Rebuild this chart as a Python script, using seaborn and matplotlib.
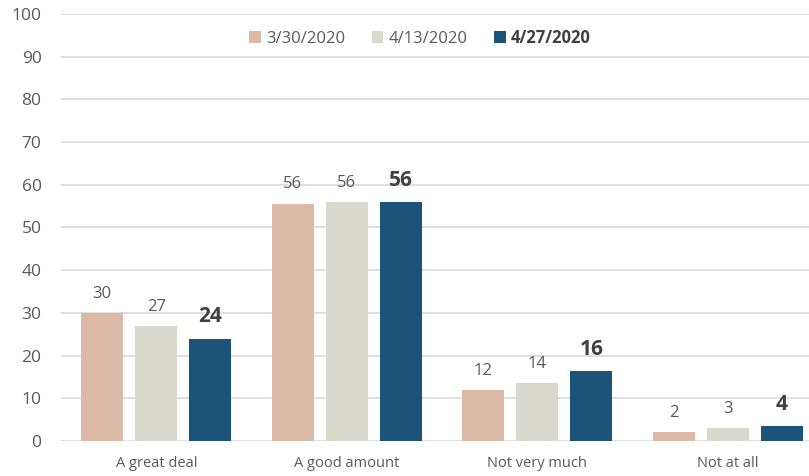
import matplotlib
matplotlib.use("Agg")
import matplotlib.pyplot as plt
import seaborn as sns
import pandas as pd
from matplotlib.patches import Patch

# data
categories = ["A great deal", "A good amount", "Not very much", "Not at all"]
dates = ["3/30/2020", "4/13/2020", "4/27/2020"]
values_0330 = [30.0, 55.6, 12.0, 2.1]
values_0413 = [27.0, 56.0, 13.5, 3.1]
values_0427 = [24.0, 56.0, 16.3, 3.6]
labels_0330 = [30, 56, 12, 2]
labels_0413 = [27, 56, 14, 3]
labels_0427 = [24, 56, 16, 4]
colors = ["#dcb8a6", "#d8d9cb", "#1c5479"]

df = pd.DataFrame({
    "category": categories * 3,
    "date": [d for d in dates for _ in categories],
    "value": values_0330 + values_0413 + values_0427,
})
labels = [labels_0330, labels_0413, labels_0427]

sns.set_theme(style="white")
plt.rcParams["font.family"] = ["Open Sans", "DejaVu Sans"]

fig = plt.figure(figsize=(8.09, 4.76), dpi=100)
ax = fig.add_axes([61 / 809, 35 / 476, 762 / 809, 427 / 476])

sns.barplot(data=df, x="category", y="value", hue="date", palette=colors,
            width=0.85, gap=0.22, ax=ax, legend=False, linewidth=0,
            edgecolor="none", saturation=1, zorder=3)

ax.set_ylim(0, 100)
ax.set_yticks(range(0, 101, 10))
ax.yaxis.grid(True, color="#d9d9d9", linewidth=1.2, zorder=0)
ax.set_axisbelow(True)
for s in ax.spines.values():
    s.set_visible(False)
ax.set_xlabel("")
ax.set_ylabel("")
ax.tick_params(axis="y", labelsize=12.5, labelcolor="#595959", length=0, pad=14)
ax.tick_params(axis="x", labelsize=10.5, labelcolor="#595959", length=0, pad=11)

# value labels
for i, cont in enumerate(ax.containers):
    for j, bar in enumerate(cont):
        bold = i == 2
        ax.annotate(str(labels[i][j]),
                    (bar.get_x() + bar.get_width() / 2, bar.get_height()),
                    xytext=(0, 8), textcoords="offset points",
                    ha="center", va="bottom",
                    fontsize=15 if bold else 12,
                    fontweight="bold" if bold else "normal",
                    color="#404040" if bold else "#595959")

# legend
handles = [Patch(facecolor=c, edgecolor="none") for c in colors]
leg = fig.legend(handles, dates, loc="center", bbox_to_anchor=(420 / 809, 1 - 38 / 476),
                 ncol=3, frameon=False, fontsize=12, handlelength=0.7,
                 handleheight=0.7, handletextpad=0.3, columnspacing=1.6)
for t in leg.get_texts():
    t.set_color("#595959")
leg.get_texts()[2].set_fontweight("bold")
leg.get_texts()[2].set_color("#404040")

fig.savefig("out.png", dpi=100)
